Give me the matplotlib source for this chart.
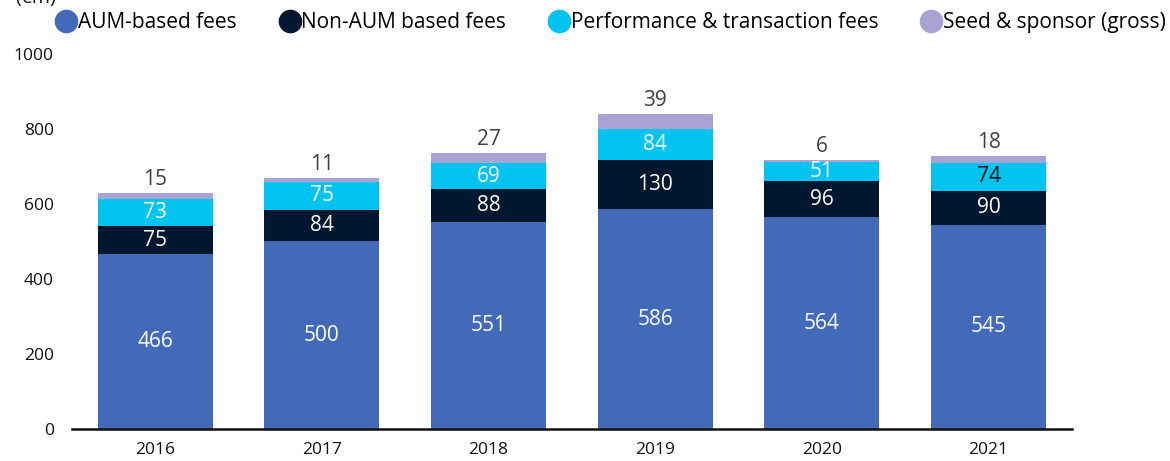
import matplotlib
matplotlib.use("Agg")
import matplotlib.pyplot as plt
from matplotlib.lines import Line2D
import numpy as np

plt.rcParams['font.family'] = ['Open Sans', 'DejaVu Sans']

years = ["2016", "2017", "2018", "2019", "2020", "2021"]
aum_fees = [466, 500, 551, 586, 564, 545]
non_aum_fees = [75, 84, 88, 130, 96, 90]
perf_fees = [73, 75, 69, 84, 51, 74]
seed_sponsor = [15, 11, 27, 39, 6, 18]

series_names = ["AUM-based fees", "Non-AUM based fees",
                "Performance & transaction fees", "Seed & sponsor (gross)"]
colors = ["#426AB9", "#011730", "#00C3F0", "#A9A3D3"]

fig = plt.figure(figsize=(11.7, 4.61), dpi=100)
ax = fig.add_axes([0.0615, 0.0694, 0.8547, 0.8135])

x = np.arange(len(years))
width = 0.69
bottom = np.zeros(len(years))
series = [aum_fees, non_aum_fees, perf_fees, seed_sponsor]

for i, (vals, col) in enumerate(zip(series, colors)):
    vals = np.array(vals, dtype=float)
    ax.bar(x, vals, width, bottom=bottom, color=col, zorder=2)
    for j, v in enumerate(vals):
        if i == 3:
            # seed labels sit above the stack
            ax.text(x[j], bottom[j] + v + 8, f"{int(v)}", ha='center', va='bottom',
                    fontsize=15, color='#404040')
        else:
            tc = 'white'
            if i == 2 and j == 5:
                tc = '#111111'
            ax.text(x[j], bottom[j] + v / 2, f"{int(v)}", ha='center', va='center',
                    fontsize=15, color=tc)
    bottom += vals

ax.set_xlim(-0.5, len(years) - 0.5)
ax.set_ylim(0, 1000)
ax.set_yticks(range(0, 1001, 200))
ax.set_xticks(x)
ax.set_xticklabels(years)
ax.tick_params(axis='both', length=0, labelsize=12.5, colors='#111111')
ax.tick_params(axis='x', pad=9)
ax.tick_params(axis='y', pad=13)
for s in ['top', 'right', 'left']:
    ax.spines[s].set_visible(False)
ax.spines['bottom'].set_linewidth(1.8)
ax.spines['bottom'].set_color('#111111')

handles = [Line2D([0], [0], marker='o', linestyle='', markersize=16,
                  markerfacecolor=c, markeredgecolor=c) for c in colors]
fig.legend(handles, series_names, loc='upper left', bbox_to_anchor=(0.031, 1.015),
           ncol=4, frameon=False, fontsize=15, handletextpad=0.0,
           columnspacing=2.0, handlelength=1.1)

# clipped unit label at the very top
fig.text(0.013, 1.005, "(€m)", fontsize=14, va='center', color='#111111')

fig.savefig("out.png", dpi=100)
